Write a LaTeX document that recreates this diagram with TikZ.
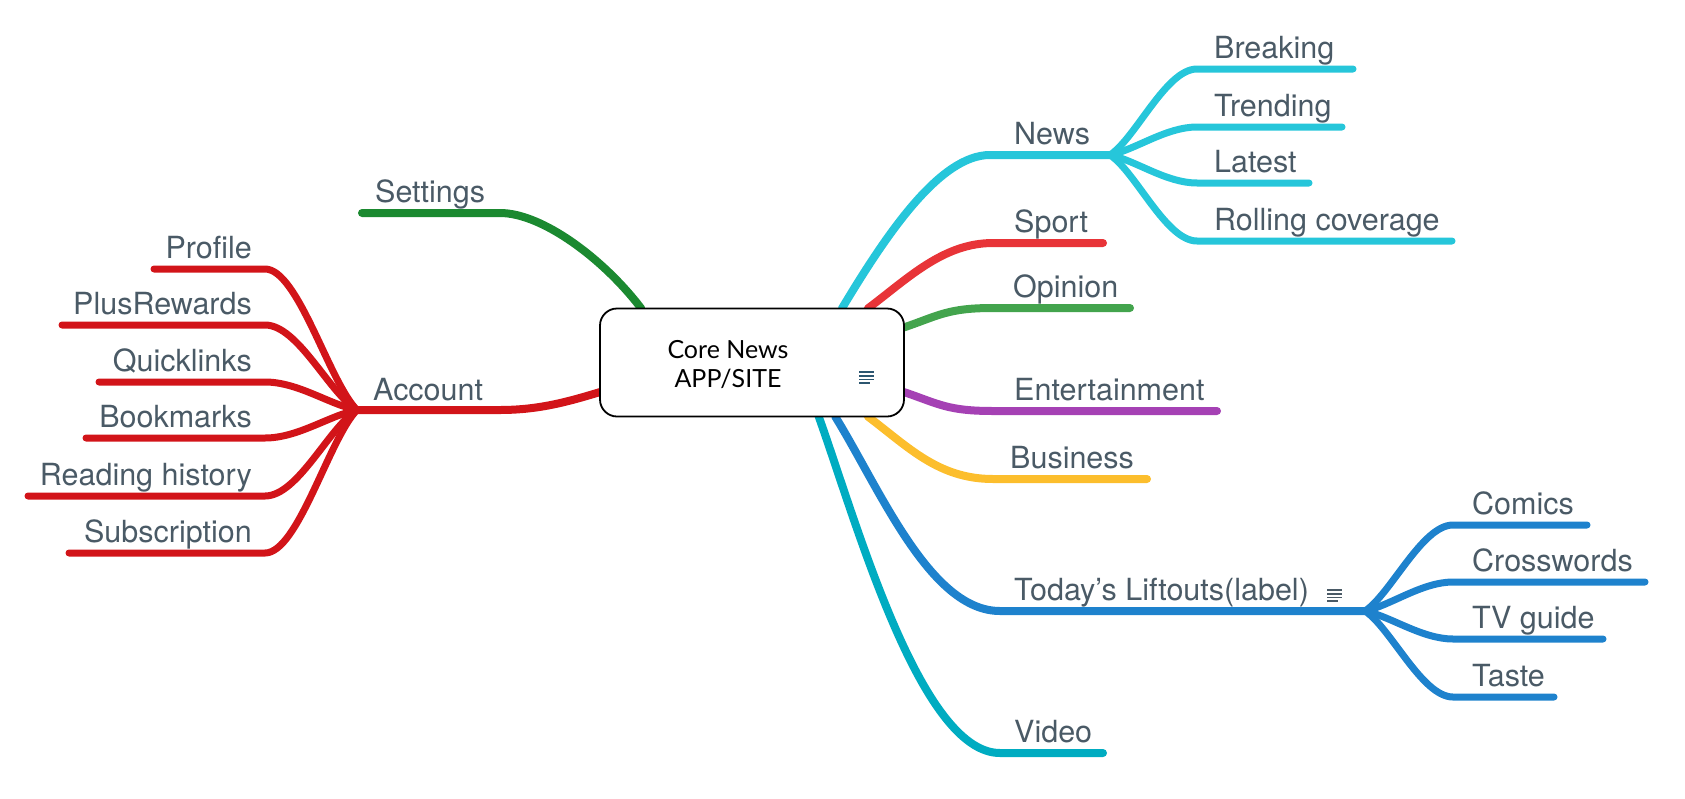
\documentclass[tikz,border=0pt]{standalone}
\usepackage{fontspec}
\usepackage{tikz}
\usetikzlibrary{
  backgrounds,
  calc
}
\newfontfamily\labelfont{TeX Gyre Heros}
\newfontfamily\corefont{Lato}
\definecolor{labelgrey}{RGB}{74, 90, 102}
\definecolor{notegrey}{RGB}{44, 86, 112}
\definecolor{newscyan}{RGB}{38, 198, 218}
\definecolor{sportred}{RGB}{232, 52, 56}
\definecolor{opiniongreen}{RGB}{67, 164, 77}
\definecolor{settingsgreen}{RGB}{27, 137, 48}
\definecolor{accountred}{RGB}{210, 20, 25}
\definecolor{entpurple}{RGB}{165, 65, 180}
\definecolor{bizyellow}{RGB}{252, 190, 45}
\definecolor{liftblue}{RGB}{30, 130, 205}
\definecolor{videoteal}{RGB}{0, 172, 193}

\begin{document}
\begin{tikzpicture}[x=1pt, y=-1pt,
  branch/.style={line width=8pt, line cap=round, draw=#1},
  subbranch/.style={line width=7pt, line cap=round, draw=#1},
  lbl/.style={anchor=base west, inner sep=0pt, text=labelgrey, font=\labelfont\fontsize{30.5}{36}\selectfont},
  lblr/.style={lbl, anchor=base east},
  corebox/.style={draw=black, line width=1.8pt, rounded corners=17pt, fill=white, minimum width=304pt, minimum height=108pt, outer sep=0pt, inner sep=0pt},
  coretext/.style={anchor=base, inner sep=0pt, font=\corefont\fontsize{25}{30}\selectfont},
  noteline/.style={line width=1.6pt, draw=#1}
]
  \useasboundingbox (0,0) rectangle (1685,798);

  % centre topic
  \node[corebox] (core) at (752,362.5) {};
  \node[coretext] (core1) at (728,358) {Core News};
  \node[coretext] (core2) at (728,387) {APP/SITE};
  \foreach \yy/\len in {372/15, 375.7/15, 379.3/15, 383/11}
    \draw[noteline=notegrey] (859,\yy) -- ++(\len,0);

  % main topics, right
  \node[lbl] (news) at (1014,144) {News};
  \node[lbl] (sport) at (1014,232) {Sport};
  \node[lbl] (opinion) at (1013,297) {Opinion};
  \node[lbl] (ent) at (1014,400) {Entertainment};
  \node[lbl] (biz) at (1010,468) {Business};
  \node[lbl] (lift) at (1014,600) {Today’s Liftouts(label)};
  \node[lbl] (video) at (1014,742) {Video};
  \foreach \yy/\len in {590/15, 593.7/15, 597.3/15, 601/11}
    \draw[noteline=labelgrey] (1327,\yy) -- ++(\len,0);

  % main topics, left
  \node[lbl] (settings) at (375,202) {Settings};
  \node[lbl] (account) at (373,400) {Account};

  \coordinate (newsbend) at (990,155);
  \coordinate (newsjoin) at (1110,155);
  \coordinate (sportbend) at (993,243);
  \coordinate (sportend) at (1103,243);
  \coordinate (opinionbend) at (993,308);
  \coordinate (opinionend) at (1130,308);
  \coordinate (entbend) at (993,411);
  \coordinate (entend) at (1217,411);
  \coordinate (bizbend) at (993,479);
  \coordinate (bizend) at (1147,479);
  \coordinate (liftbend) at (1000,611);
  \coordinate (liftjoin) at (1365,611);
  \coordinate (videobend) at (1000,753);
  \coordinate (videoend) at (1103,753);
  \coordinate (settingsbend) at (500,213);
  \coordinate (settingsend) at (362,213);
  \coordinate (accountbend) at (500,410);
  \coordinate (accountjoin) at (357,410);

  \begin{scope}[on background layer]
    \draw[branch=newscyan] (core.31) .. controls +(45,-75) and +(-50,0) .. (newsbend) -- (newsjoin);
    \draw[branch=sportred] (core.25) .. controls +(40,-30) and +(-50,0) .. (sportbend) -- (sportend);
    \draw[branch=opiniongreen] (core.13) .. controls +(35,-12) and +(-45,0) .. (opinionbend) -- (opinionend);
    \draw[branch=entpurple] (core.-11) .. controls +(35,12) and +(-45,0) .. (entbend) -- (entend);
    \draw[branch=bizyellow] (core.-25) .. controls +(40,30) and +(-55,0) .. (bizbend) -- (bizend);
    \draw[branch=liftblue] (core.-33) .. controls +(45,73) and +(-70,0) .. (liftbend) -- (liftjoin);
    \draw[branch=videoteal] (core.-39) .. controls +(37,103) and +(-80,0) .. (videobend) -- (videoend);
    \draw[branch=settingsgreen] (core.154) .. controls +(-38,-50) and +(42,0) .. (settingsbend) -- (settingsend);
    \draw[branch=accountred] (core.191) .. controls +(-30,9) and +(40,0) .. (accountbend) -- (accountjoin);
  \end{scope}

  % subtopics of News
  \foreach \name/\y/\xend/\txt in {breaking/69/1353/Breaking, trending/127/1342/Trending,
      latest/183/1309/Latest, rolling/241/1452/Rolling coverage} {
    \node[lbl] (\name) at (1214,\y-11) {\txt};
    \coordinate (\name bend) at (1197,\y);
    \coordinate (\name end) at (\xend,\y);
    \begin{scope}[on background layer]
      \draw[subbranch=newscyan] (newsjoin) .. controls +(26,{0.2*(\y-155)}) and +(-31,0) .. (\name bend) -- (\name end);
    \end{scope}
  }

  % subtopics of Today's Liftouts
  \foreach \name/\y/\xend/\txt in {comics/525/1587/Comics, crosswords/582/1645/Crosswords,
      tvguide/639/1603/TV guide, taste/697/1554/Taste} {
    \node[lbl] (\name) at (1472,\y-11) {\txt};
    \coordinate (\name bend) at (1453,\y);
    \coordinate (\name end) at (\xend,\y);
    \begin{scope}[on background layer]
      \draw[subbranch=liftblue] (liftjoin) .. controls +(26,{0.2*(\y-611)}) and +(-31,0) .. (\name bend) -- (\name end);
    \end{scope}
  }

  % subtopics of Account
  \foreach \name/\y/\xend/\txt in {profile/269/154/Profile, plus/325/62/PlusRewards,
      quick/382/99/Quicklinks, bookmarks/438/86/Bookmarks,
      history/496/28/Reading history, subscr/553/69/Subscription} {
    \node[lblr] (\name) at (252,\y-11) {\txt};
    \coordinate (\name bend) at (265,\y);
    \coordinate (\name end) at (\xend,\y);
    \begin{scope}[on background layer]
      \draw[subbranch=accountred] (accountjoin) .. controls +(-28,{0.2*(\y-410)}) and +(33,0) .. (\name bend) -- (\name end);
    \end{scope}
  }
\end{tikzpicture}
\end{document}
